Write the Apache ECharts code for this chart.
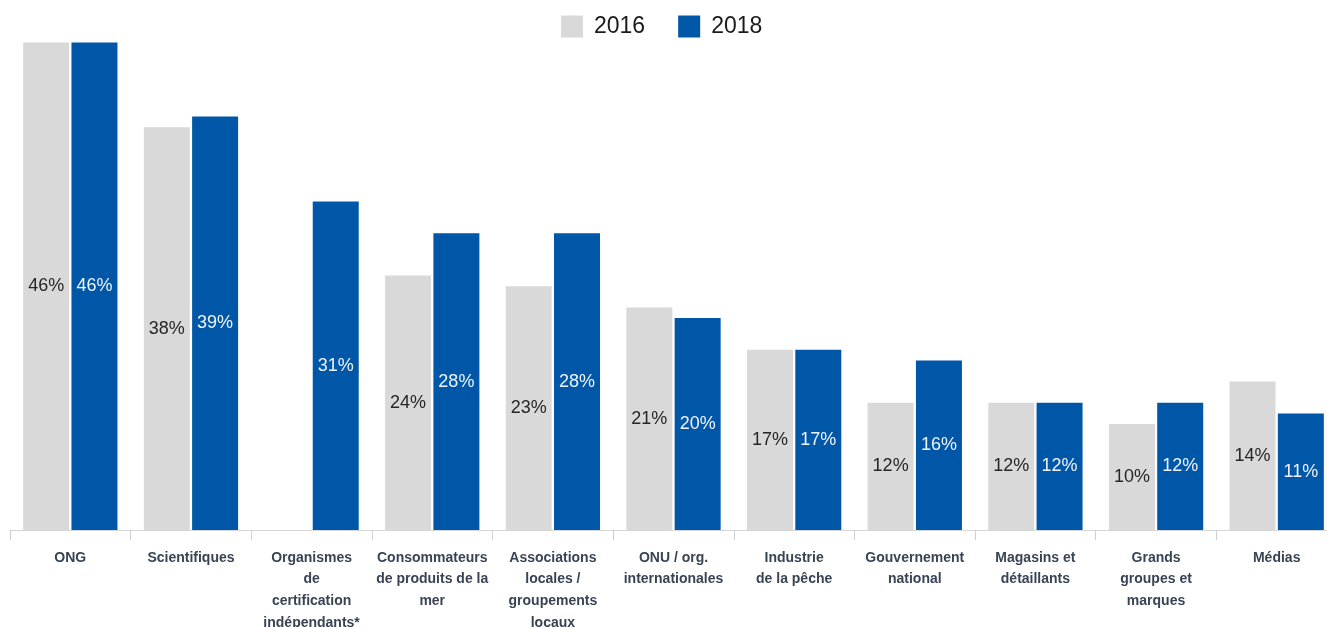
<!DOCTYPE html>
<html>
<head>
<meta charset="utf-8">
<script src="https://cdn.jsdelivr.net/npm/echarts@6/dist/echarts.min.js"></script>
<style>
  html, body { margin: 0; padding: 0; background: #ffffff; }
  #chart { width: 1327px; height: 627px; }
</style>
</head>
<body>
<div id="chart"></div>
<script>
// Stakeholder categories (line breaks as they appear under the axis)
const categories = [
  'ONG',
  'Scientifiques',
  'Organismes\nde\ncertification\nindépendants*',
  'Consommateurs\nde produits de la\nmer',
  'Associations\nlocales /\ngroupements\nlocaux',
  'ONU / org.\ninternationales',
  'Industrie\nde la pêche',
  'Gouvernement\nnational',
  'Magasins et\ndétaillants',
  'Grands\ngroupes et\nmarques',
  'Médias'
];

const seriesNames = ['2016', '2018'];

// Percentages per category; '-' means no 2016 figure
const values2016 = [46, 38, '-', 24, 23, 21, 17, 12, 12, 10, 14];
const values2018 = [46, 39, 31, 28, 28, 20, 17, 16, 12, 12, 11];

const GREY = '#d9d9d9';
const BLUE = '#0157a7';
const FONT = '"Liberation Sans", Arial, sans-serif';

const chart = echarts.init(document.getElementById('chart'), null, { renderer: 'canvas' });

function labelStyle(color) {
  return {
    show: true,
    position: 'inside',
    formatter: '{c}%',
    color: color,
    fontFamily: FONT,
    fontSize: 18
  };
}

chart.setOption({
  animation: false,
  backgroundColor: '#ffffff',
  legend: {
    data: seriesNames,
    top: 10,
    left: 556,
    itemWidth: 22,
    itemHeight: 22,
    itemGap: 33,
    icon: 'rect',
    textStyle: {
      fontFamily: FONT,
      fontSize: 23,
      color: '#1a1a1a',
      padding: [0, 0, 0, 6]
    }
  },
  grid: {
    left: 10,
    width: 1327,
    top: 0,
    bottom: 97,
    containLabel: false,
    outerBoundsMode: 'none'
  },
  xAxis: {
    type: 'category',
    data: categories,
    axisLine: { lineStyle: { color: '#d6d6d6', width: 1 } },
    axisTick: { show: true, length: 10, lineStyle: { color: '#cfcfcf' } },
    axisLabel: {
      interval: 0,
      margin: 17,
      fontFamily: FONT,
      fontSize: 14,
      fontWeight: 'bold',
      lineHeight: 21.7,
      color: '#384354',
      align: 'center'
    }
  },
  yAxis: {
    type: 'value',
    min: 0,
    max: 50,
    show: false,
    splitLine: { show: false }
  },
  series: [
    {
      name: seriesNames[0],
      type: 'bar',
      data: values2016,
      barWidth: 46,
      barGap: '5%',
      itemStyle: { color: GREY },
      label: labelStyle('#262626')
    },
    {
      name: seriesNames[1],
      type: 'bar',
      data: values2018,
      barWidth: 46,
      barGap: '5%',
      itemStyle: { color: BLUE },
      label: labelStyle('#eef3fa')
    }
  ]
});
</script>
</body>
</html>
